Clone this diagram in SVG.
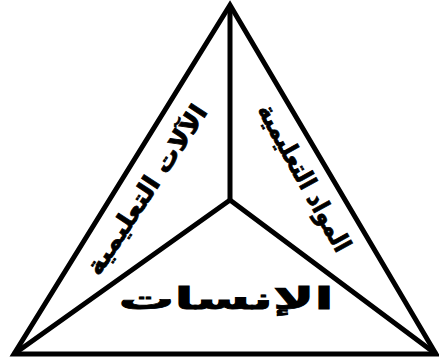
<svg xmlns="http://www.w3.org/2000/svg" width="439" height="363" viewBox="0 0 439 363">
<style>
.ln{stroke:#000;stroke-width:5;fill:none;stroke-linejoin:miter;stroke-linecap:butt}
.lbl{font-family:"DejaVu Sans","Noto Sans",sans-serif;font-weight:bold;fill:#000;stroke:#000;stroke-width:0.8;text-anchor:middle}
</style>
<rect width="439" height="363" fill="#fff"/>
<g id="connectors">
<polygon class="ln" points="230,5 14,354 436,354"/>
<polyline class="ln" points="230,5 230,200"/>
<polyline class="ln" points="14,354 230,200 436,354"/>
</g>
<g id="node-tools">
<text class="lbl" font-size="25" direction="rtl" transform="translate(147,190) rotate(-56.5)" x="0" y="8" textLength="198" lengthAdjust="spacingAndGlyphs">الآلات التعليمية</text>
</g>
<g id="node-materials">
<text class="lbl" font-size="25" direction="rtl" transform="translate(304,178) rotate(61)" x="0" y="8" textLength="165" lengthAdjust="spacingAndGlyphs">المواد التعليمية</text>
</g>
<g id="node-human">
<text class="lbl" font-size="30" direction="rtl" x="226" y="309" textLength="215" lengthAdjust="spacingAndGlyphs">الإنسات</text>
</g>
</svg>
